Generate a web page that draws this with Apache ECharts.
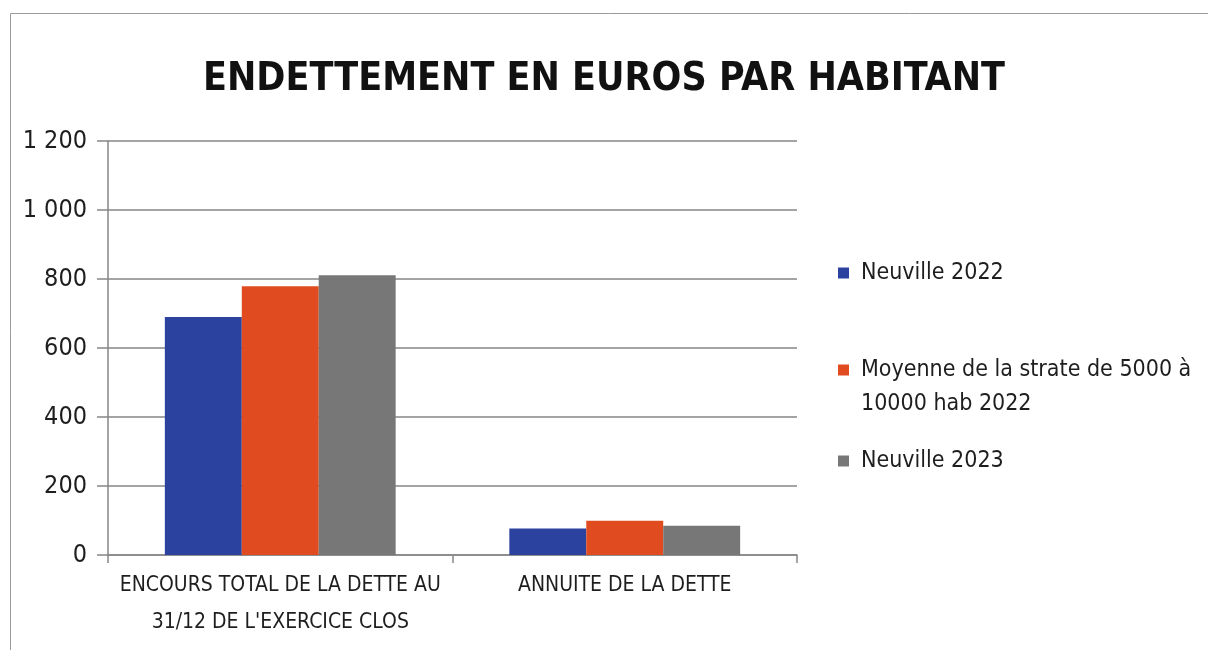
<!DOCTYPE html>
<html>
<head>
<meta charset="utf-8">
<script src="https://cdn.jsdelivr.net/npm/echarts@6/dist/echarts.min.js"></script>
<style>
    html, body { margin: 0; padding: 0; background: #ffffff; }
    #chart { width: 1208px; height: 650px; }
</style>
</head>
<body>
<div id="chart"></div>
<script>
// Valeurs (euros par habitant)
const categories = [
    "ENCOURS TOTAL DE LA DETTE AU\n31/12 DE L'EXERCICE CLOS",
    "ANNUITE DE LA DETTE"
];
const seriesNames = [
    "Neuville 2022",
    "Moyenne de la strate de 5000 à 10000 hab 2022",
    "Neuville 2023"
];
const neuville2022 = [690, 77];
const moyenneStrate2022 = [779, 99];
const neuville2023 = [811, 85];

const yMin = 0;
const yMax = 1200;
const yInterval = 200;

const colorBlue = "#2b429f";
const colorOrange = "#e04c1f";
const colorGrey = "#777777";
const colorAxis = "#868686";
const colorText = "#1e1e1e";
const fontNarrow = "'Liberation Sans Narrow', 'DejaVu Sans Condensed', 'Liberation Sans', sans-serif";

const chart = echarts.init(document.getElementById("chart"));

function legendAt(name, top, formatter) {
    return {
        orient: "vertical",
        left: 833,
        top: top,
        data: [name],
        icon: "rect",
        itemWidth: 11,
        itemHeight: 11,
        selectedMode: false,
        formatter: formatter,
        textStyle: {
            color: colorText,
            fontFamily: fontNarrow,
            fontSize: 23,
            lineHeight: 34,
            padding: [0, 0, 0, 7]
        }
    };
}

chart.setOption({
    backgroundColor: "#ffffff",
    animation: false,
    title: {
        text: "ENDETTEMENT EN EUROS PAR HABITANT",
        left: "center",
        top: 55,
        textStyle: {
            color: "#111111",
            fontFamily: fontNarrow,
            fontSize: 39,
            fontWeight: "bold"
        }
    },
    graphic: [
        {
            type: "rect",
            left: 8,
            top: 11,
            shape: { width: 1400, height: 900 },
            style: { fill: null, stroke: "#9a9a9a", lineWidth: 1 },
            silent: true,
            z: -1
        }
    ],
    color: [colorBlue, colorOrange, colorGrey],
    legend: [
        legendAt(seriesNames[0], 251),
        // ligne vide en tête : la première ligne reste alignée sur le carré
        legendAt(seriesNames[1], 314, () => "\nMoyenne de la strate de 5000 à\n10000 hab 2022"),
        legendAt(seriesNames[2], 439)
    ],
    grid: {
        left: 108,
        right: 411,
        top: 141,
        bottom: 95
    },
    xAxis: {
        type: "category",
        data: categories,
        axisLine: { lineStyle: { color: colorAxis, width: 1.5 } },
        axisTick: {
            show: true,
            interval: 0,
            length: 8,
            lineStyle: { color: colorAxis, width: 1.5 }
        },
        axisLabel: {
            interval: 0,
            color: colorText,
            fontFamily: fontNarrow,
            fontSize: 21,
            lineHeight: 37,
            margin: 12
        }
    },
    yAxis: {
        type: "value",
        min: yMin,
        max: yMax,
        interval: yInterval,
        axisLine: { show: true, lineStyle: { color: colorAxis, width: 1.5 } },
        axisTick: {
            show: true,
            length: 11,
            lineStyle: { color: colorAxis, width: 1.5 }
        },
        splitLine: { lineStyle: { color: colorAxis, width: 1.5 } },
        axisLabel: {
            color: colorText,
            fontFamily: fontNarrow,
            fontSize: 25,
            margin: 21,
            formatter: v => String(v).replace(/\B(?=(\d{3})+(?!\d))/g, " ")
        }
    },
    series: [
        {
            name: seriesNames[0],
            type: "bar",
            barGap: "0%",
            barCategoryGap: "33%",
            data: neuville2022
        },
        {
            name: seriesNames[1],
            type: "bar",
            barGap: "0%",
            barCategoryGap: "33%",
            data: moyenneStrate2022
        },
        {
            name: seriesNames[2],
            type: "bar",
            barGap: "0%",
            barCategoryGap: "33%",
            data: neuville2023
        }
    ]
});
</script>
</body>
</html>
